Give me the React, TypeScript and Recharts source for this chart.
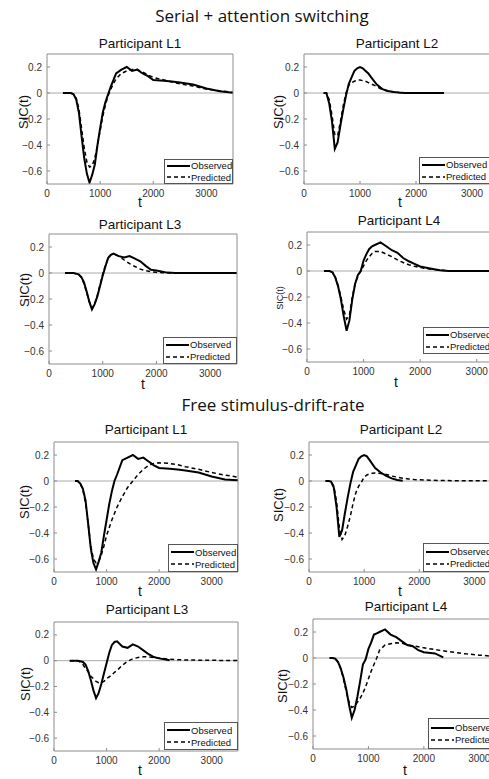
import React from 'react';
import { LineChart, Line, XAxis, YAxis, ReferenceLine, Legend } from 'recharts';

// time grid (ms) shared by every panel
const T = [
  300, 350, 400, 450, 500, 550, 600, 650, 700, 750, 800, 850, 900, 950, 1000, 1050, 1100, 1150, 1200,
  1300, 1400, 1500, 1600, 1700, 1800, 1900, 2000,
  2200, 2350, 2500, 2750, 3000, 3250, 3500,
];

const X_TICKS = [0, 1000, 2000, 3000];
const Y_TICKS = [-0.6, -0.4, -0.2, 0, 0.2];
const SERIES = ['Observed', 'Predicted'];
const GROUP_TITLES = ['Serial + attention switching', 'Free stimulus-drift-rate'];
const PARTICIPANTS = ['Participant L1', 'Participant L2', 'Participant L3', 'Participant L4'];

// Serial + attention switching
const serialL1Obs = [0, 0, 0, 0, -0.01, -0.05, -0.15, -0.33, -0.5, -0.62, -0.69, -0.63, -0.55, -0.4, -0.27, -0.15, -0.07, -0.01, 0.05,
  0.15, 0.18, 0.2, 0.17, 0.18, 0.15, 0.13, 0.1,
  0.095, 0.088, 0.08, 0.065, 0.035, 0.013, 0.002];
const serialL1Pred = [0, 0, 0, 0, -0.01, -0.04, -0.12, -0.27, -0.42, -0.53, -0.57, -0.56, -0.5, -0.4, -0.29, -0.18, -0.09, -0.02, 0.03,
  0.11, 0.15, 0.17, 0.18, 0.18, 0.16, 0.14, 0.12,
  0.1, 0.085, 0.07, 0.053, 0.03, 0.017, 0.005];

const serialL2Obs = [null, 0, 0, -0.08, -0.22, -0.43, -0.38, -0.25, -0.13, -0.02, 0.07, 0.12, 0.17, 0.19, 0.2, 0.19, 0.17, 0.15, 0.12,
  0.065, 0.03, 0.015, 0.008, 0.003, 0, 0, 0,
  0, 0, 0, null, null, null, null];
const serialL2Pred = [null, 0, 0, -0.05, -0.17, -0.32, -0.33, -0.22, -0.1, 0, 0.06, 0.08, 0.09, 0.1, 0.1, 0.095, 0.09, 0.08, 0.07,
  0.05, 0.025, 0.015, 0.008, 0.003, 0.001, 0, 0,
  0, 0, 0, null, null, null, null];

const serialL3Obs = [0, 0, 0, 0, -0.005, -0.01, -0.03, -0.07, -0.14, -0.22, -0.28, -0.24, -0.18, -0.1, -0.02, 0.05, 0.115, 0.14, 0.15,
  0.13, 0.12, 0.13, 0.11, 0.09, 0.055, 0.025, 0.02,
  0.003, 0, 0, 0, 0, 0, 0];
const serialL3Pred = [0, 0, 0, 0, -0.005, -0.01, -0.035, -0.08, -0.15, -0.22, -0.27, -0.24, -0.17, -0.09, -0.01, 0.06, 0.11, 0.14, 0.145,
  0.13, 0.1, 0.072, 0.05, 0.03, 0.018, 0.01, 0.005,
  0.001, 0, 0, 0, 0, 0, 0];

const serialL4Obs = [0, 0, 0, -0.01, -0.05, -0.12, -0.22, -0.35, -0.46, -0.38, -0.22, -0.1, -0.03, 0, 0.08, 0.13, 0.17, 0.19, 0.2,
  0.22, 0.19, 0.16, 0.14, 0.1, 0.075, 0.055, 0.035,
  0.018, 0.006, 0, 0, 0, 0, 0];
const serialL4Pred = [0, 0, 0, -0.01, -0.05, -0.11, -0.2, -0.3, -0.37, -0.34, -0.2, -0.1, -0.04, 0, 0.04, 0.08, 0.11, 0.135, 0.15,
  0.15, 0.13, 0.11, 0.085, 0.065, 0.048, 0.036, 0.027,
  0.013, 0.006, 0.002, 0, 0, 0, 0];

// Free stimulus-drift-rate
const freeL1Obs = [null, null, 0, 0, -0.02, -0.06, -0.15, -0.33, -0.52, -0.63, -0.68, -0.62, -0.55, -0.42, -0.3, -0.18, -0.08, 0, 0.05,
  0.16, 0.18, 0.2, 0.17, 0.18, 0.15, 0.12, 0.1,
  0.095, 0.088, 0.08, 0.066, 0.035, 0.012, 0.005];
const freeL1Pred = [null, null, 0, 0, -0.02, -0.07, -0.17, -0.33, -0.5, -0.6, -0.63, -0.62, -0.57, -0.5, -0.42, -0.36, -0.3, -0.25, -0.2,
  -0.12, -0.05, 0, 0.05, 0.09, 0.12, 0.135, 0.14,
  0.135, 0.125, 0.11, 0.09, 0.065, 0.045, 0.03];

const freeL2Obs = [0, 0, -0.005, -0.05, -0.2, -0.43, -0.38, -0.25, -0.13, -0.02, 0.07, 0.12, 0.17, 0.19, 0.2, 0.19, 0.16, 0.13, 0.1,
  0.065, 0.04, 0.02, 0.008, 0.002, null, null, null,
  null, null, null, null, null, null, null];
const freeL2Pred = [0, 0, -0.005, -0.04, -0.16, -0.36, -0.45, -0.42, -0.35, -0.27, -0.17, -0.09, -0.04, -0.01, 0.03, 0.046, 0.055, 0.06, 0.062,
  0.058, 0.05, 0.038, 0.03, 0.022, 0.016, 0.012, 0.009,
  0.006, 0.004, 0.003, 0.002, 0.001, 0.001, 0];

const freeL3Obs = [0, 0, 0, 0, -0.005, -0.01, -0.03, -0.08, -0.15, -0.23, -0.29, -0.25, -0.18, -0.1, -0.02, 0.06, 0.12, 0.145, 0.15,
  0.11, 0.1, 0.127, 0.11, 0.08, 0.05, 0.028, 0.018,
  0.003, null, null, null, null, null, null];
const freeL3Pred = [0, 0, 0, 0, -0.01, -0.03, -0.06, -0.085, -0.12, -0.14, -0.16, -0.17, -0.17, -0.16, -0.14, -0.125, -0.11, -0.09, -0.075,
  -0.035, -0.005, 0.015, 0.025, 0.03, 0.03, 0.025, 0.02,
  0.012, 0.008, 0.006, 0.004, 0.003, 0.002, 0.001];

const freeL4Obs = [0, 0, -0.005, -0.03, -0.08, -0.15, -0.24, -0.36, -0.46, -0.4, -0.3, -0.18, -0.05, -0.01, 0.07, 0.12, 0.18, 0.19, 0.2,
  0.22, 0.18, 0.16, 0.13, 0.1, 0.09, 0.06, 0.045,
  0.035, 0.005, null, null, null, null, null];
const freeL4Pred = [0, 0, -0.005, -0.03, -0.08, -0.16, -0.26, -0.34, -0.38, -0.37, -0.34, -0.31, -0.27, -0.22, -0.16, -0.1, -0.05, 0, 0.06,
  0.1, 0.11, 0.117, 0.115, 0.1, 0.095, 0.087, 0.078,
  0.065, 0.055, 0.046, 0.032, 0.022, 0.013, 0.008];

const FONT = '"Liberation Sans", Arial, sans-serif';
const FRAME = '#8c8c8c';
const YW = 40; // left axis width
const XH = 24; // bottom axis height
const PAD = 2;

// page layout of each panel (plot box, legend box, label spots)
const panels = [
  { title: PARTICIPANTS[0], obs: serialL1Obs, pred: serialL1Pred, x: 47, y: 54, w: 186, h: 130, leg: [164, 159, 69, 25], tt: [140, 48], yl: [23, 112, 13], xl: [140, 207] },
  { title: PARTICIPANTS[1], obs: serialL2Obs, pred: serialL2Pred, x: 304, y: 54, w: 196, h: 130, leg: [419, 157, 71, 27], tt: [397, 48], yl: [278, 112, 13], xl: [400, 207] },
  { title: PARTICIPANTS[2], obs: serialL3Obs, pred: serialL3Pred, x: 49, y: 234, w: 188, h: 130, leg: [163, 337, 74, 27], tt: [140, 229], yl: [24, 290, 13], xl: [143, 389] },
  { title: PARTICIPANTS[3], obs: serialL4Obs, pred: serialL4Pred, x: 307, y: 232, w: 198, h: 130, leg: [423, 327, 71, 27], tt: [399, 225], yl: [280, 298, 9], xl: [396, 387] },
  { title: PARTICIPANTS[0], obs: freeL1Obs, pred: freeL1Pred, x: 54, y: 442, w: 184, h: 130, leg: [168, 544, 70, 28], tt: [146, 434], yl: [24, 502, 13], xl: [140, 596] },
  { title: PARTICIPANTS[1], obs: freeL2Obs, pred: freeL2Pred, x: 309, y: 442, w: 193, h: 130, leg: [423, 543, 71, 29], tt: [401, 434], yl: [278, 505, 13], xl: [400, 596] },
  { title: PARTICIPANTS[2], obs: freeL3Obs, pred: freeL3Pred, x: 54, y: 622, w: 184, h: 129, leg: [164, 722, 74, 28], tt: [147, 614], yl: [25, 684, 13], xl: [140, 775] },
  { title: PARTICIPANTS[3], obs: freeL4Obs, pred: freeL4Pred, x: 313, y: 619, w: 194, h: 130, leg: [428, 718, 71, 31], tt: [406, 611], yl: [282, 686, 13], xl: [405, 775] },
];

const fmtY = (v: number) => (v < 0 ? '\u2212' + String(-v) : String(v));

const LegendBox = ({ w, h }: { w: number; h: number }) => (
  <div
    style={{
      width: w, height: h, boxSizing: 'border-box', border: '1px solid #555', background: '#fff',
      display: 'flex', flexDirection: 'column', justifyContent: 'center', paddingLeft: 2,
      fontFamily: FONT, fontSize: 9.5, color: '#111', whiteSpace: 'nowrap',
    }}
  >
    {SERIES.map((name, i) => (
      <div key={name} style={{ display: 'flex', alignItems: 'center', height: 12 }}>
        <svg width={23} height={6} style={{ flex: 'none' }}>
          <line x1={0} x2={23} y1={3} y2={3} stroke="#000" strokeWidth={i ? 1.5 : 2} strokeDasharray={i ? '4 3' : undefined} />
        </svg>
        <span style={{ marginLeft: 1 }}>{name}</span>
      </div>
    ))}
  </div>
);

const Panel = ({ p }: { p: any }) => {
  const rows = T.map((t, i) => ({ t, obs: p.obs[i], pred: p.pred[i] }));
  const left = p.x - YW;
  const top = p.y - PAD - 1;
  const tickStyle = { fontSize: 10, fontFamily: FONT, fill: '#333' };
  const [lx, ly, lw, lh] = p.leg;
  return (
    <div style={{ position: 'absolute', left, top }}>
      <LineChart width={YW + p.w + 1 + PAD} height={PAD + 1 + p.h + XH} data={rows} margin={{ top: PAD, right: PAD, bottom: 0, left: 0 }}>
        <XAxis dataKey="t" type="number" domain={[0, 3500]} ticks={X_TICKS} allowDataOverflow height={XH}
          stroke={FRAME} tickSize={-3} tickMargin={9} tick={tickStyle} />
        <XAxis xAxisId="top" orientation="top" dataKey="t" type="number" domain={[0, 3500]} ticks={X_TICKS} allowDataOverflow
          height={1} stroke={FRAME} tickSize={-3} tick={false} />
        <YAxis type="number" domain={[-0.7, 0.3]} ticks={Y_TICKS} allowDataOverflow width={YW}
          stroke={FRAME} tickSize={-3} tickMargin={8} tick={tickStyle} tickFormatter={fmtY} />
        <YAxis yAxisId="right" orientation="right" type="number" domain={[-0.7, 0.3]} ticks={Y_TICKS} allowDataOverflow
          width={1} stroke={FRAME} tickSize={-3} tick={false} />
        <ReferenceLine y={0} stroke="#aaa" strokeWidth={1} />
        <Line dataKey="obs" name={SERIES[0]} type="linear" stroke="#000" strokeWidth={2} dot={false} isAnimationActive={false} />
        <Line dataKey="pred" name={SERIES[1]} type="linear" stroke="#000" strokeWidth={1.5} strokeDasharray="4 3" dot={false} isAnimationActive={false} />
        <Legend layout="horizontal" verticalAlign="middle" align="center"
          wrapperStyle={{ left: lx - left, top: ly - top, width: lw, height: lh, margin: 0 }}
          content={() => <LegendBox w={lw} h={lh} />} />
      </LineChart>
    </div>
  );
};

export default function App() {
  return (
    <div style={{ position: 'absolute', left: 0, top: 0, width: 489, height: 779, overflow: 'hidden', background: '#fff' }}>
      {panels.map((p, i) => <Panel key={i} p={p} />)}
      <svg width={489} height={779} style={{ position: 'absolute', left: 0, top: 0, pointerEvents: 'none' }}>
        <text x={262} y={22} textAnchor="middle" fontFamily='"Open Sans", sans-serif' fontSize={17} fill="#111">{GROUP_TITLES[0]}</text>
        <text x={273} y={411} textAnchor="middle" fontFamily='"Open Sans", sans-serif' fontSize={17} fill="#111">{GROUP_TITLES[1]}</text>
        {panels.map((p, i) => (
          <g key={i} fontFamily={FONT} fill="#111">
            <text x={p.tt[0]} y={p.tt[1]} textAnchor="middle" fontSize={13.5}>{p.title}</text>
            <text transform={`translate(${p.yl[0]},${p.yl[1]}) rotate(-90)`} textAnchor="middle" dominantBaseline="central" fontSize={p.yl[2]}>SIC(t)</text>
            <text x={p.xl[0]} y={p.xl[1]} textAnchor="middle" fontSize={14}>t</text>
          </g>
        ))}
      </svg>
    </div>
  );
}
